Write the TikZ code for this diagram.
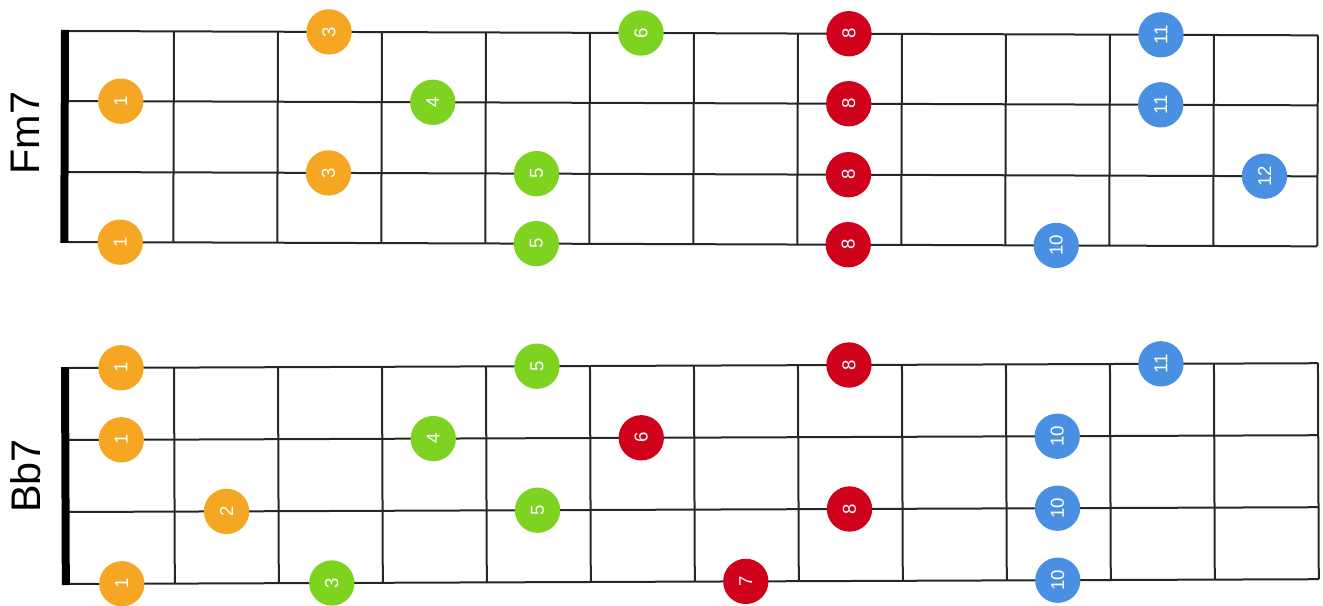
\documentclass[tikz,border=0pt]{standalone}
\usepackage{fontspec}
\setmainfont{Liberation Sans}
\usetikzlibrary{positioning}
\definecolor{noteOrange}{HTML}{F5A623}
\definecolor{noteGreen}{HTML}{7ED321}
\definecolor{noteRed}{HTML}{D0021B}
\definecolor{noteBlue}{HTML}{4A90E2}
\tikzset{
  note/.style={circle, minimum size=34pt, inner sep=0pt, text=white,
    font=\fontsize{14}{14}\selectfont, rotate=90},
  orange/.style={note, fill=noteOrange},
  green/.style ={note, fill=noteGreen},
  red/.style   ={note, fill=noteRed},
  blue/.style  ={note, fill=noteBlue},
  chordname/.style={font=\fontsize{31}{31}\selectfont, rotate=90, inner sep=0pt},
  fretline/.style={line width=1.5pt, draw=black!85},
  nut/.style={fill=black},
}

\begin{document}
\begin{tikzpicture}[x=0.75pt, y=-0.75pt]
  \useasboundingbox (0,0) rectangle (1323,606);

  % ---- Fm7 board ---------------------------------------------------------
  \node[chordname] (fmName) at (25,133) {Fm7};
  \begin{scope}[rotate around={-0.2:(68,31)}]
    \foreach \y in {31,101,172,242}
      \draw[fretline] (68,\y) -- (1318,\y);
    \foreach \x in {174,278,...,1318}
      \draw[fretline] (\x,31) -- (\x,242);
    \fill[nut] (61,30) rectangle (69,243);

    \node[orange] (fm1a) at (329,31)  {3};
    \node[green]  (fm1b) at (641,31)  {6};
    \node[red]    (fm1c) at (849,31)  {8};
    \node[blue]   (fm1d) at (1161,31) {11};

    \node[orange] (fm2a) at (121,101) {1};
    \node[green]  (fm2b) at (433,101) {4};
    \node[red]    (fm2c) at (849,101) {8};
    \node[blue]   (fm2d) at (1161,101){11};

    \node[orange] (fm3a) at (329,172) {3};
    \node[green]  (fm3b) at (537,172) {5};
    \node[red]    (fm3c) at (849,172) {8};
    \node[blue]   (fm3d) at (1265,172){12};

    \node[orange] (fm4a) at (121,242) {1};
    \node[green]  (fm4b) at (537,242) {5};
    \node[red]    (fm4c) at (849,242) {8};
    \node[blue]   (fm4d) at (1057,242){10};
  \end{scope}

  % ---- Bb7 board ---------------------------------------------------------
  \node[chordname] (bbName) at (26,476) {Bb7};
  \begin{scope}[rotate around={0.22:(68,368)}]
    \foreach \y in {368,440,512,584}
      \draw[fretline] (68,\y) -- (1318,\y);
    \foreach \x in {174,278,...,1318}
      \draw[fretline] (\x,368) -- (\x,584);
    \fill[nut] (61,367) rectangle (69,585);

    \node[orange] (bb1a) at (121,368) {1};
    \node[green]  (bb1b) at (537,368) {5};
    \node[red]    (bb1c) at (849,368) {8};
    \node[blue]   (bb1d) at (1161,368){11};

    \node[orange] (bb2a) at (121,440) {1};
    \node[green]  (bb2b) at (433,440) {4};
    \node[red]    (bb2c) at (641,440) {6};
    \node[blue]   (bb2d) at (1057,440){10};

    \node[orange] (bb3a) at (226,512) {2};
    \node[green]  (bb3b) at (537,512) {5};
    \node[red]    (bb3c) at (849,512) {8};
    \node[blue]   (bb3d) at (1057,512){10};

    \node[orange] (bb4a) at (121,584) {1};
    \node[green]  (bb4b) at (331,584) {3};
    \node[red]    (bb4c) at (745,584) {7};
    \node[blue]   (bb4d) at (1057,584){10};
  \end{scope}

\end{tikzpicture}
\end{document}
